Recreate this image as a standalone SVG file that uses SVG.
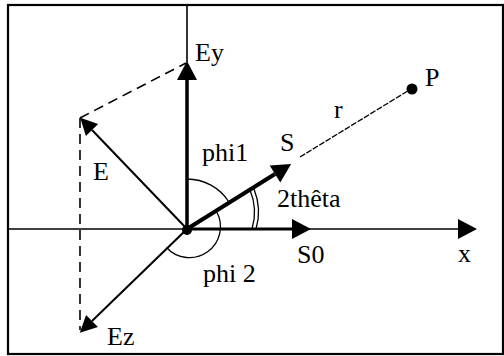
<svg xmlns="http://www.w3.org/2000/svg" width="504" height="356" viewBox="0 0 504 356">
<style>
text{font-family:"Liberation Serif","Times New Roman",serif;font-size:26px;fill:#000}
.thin{stroke:#000;stroke-width:1.6;fill:none}
.dash{stroke:#000;stroke-width:1.6;fill:none;stroke-dasharray:10,6}
.arc{stroke:#000;stroke-width:1.3;fill:none}
</style>
<defs>
<marker id="head" markerUnits="userSpaceOnUse" markerWidth="22" markerHeight="24" refX="0" refY="0" viewBox="0 -12 22 24" orient="auto" overflow="visible">
<path d="M0,-10 L19,0 L0,10 z" fill="#000"/>
</marker>
<marker id="headS" markerUnits="userSpaceOnUse" markerWidth="20" markerHeight="20" refX="0" refY="0" viewBox="0 -10 20 20" orient="auto" overflow="visible">
<path d="M0,-8.5 L17,0 L0,8.5 z" fill="#000"/>
</marker>
</defs>
<rect x="8" y="5" width="495" height="349" fill="#fff" stroke="#000" stroke-width="2.2"/>
<g id="connectors">
<line class="thin" x1="9" y1="229" x2="458" y2="229" marker-end="url(#head)"/>
<line class="thin" x1="187" y1="6" x2="187" y2="62"/>
<line x1="187" y1="229" x2="187" y2="80" stroke="#000" stroke-width="3.5" marker-end="url(#head)"/>
<line x1="187" y1="229" x2="292" y2="229" stroke="#000" stroke-width="3" marker-end="url(#head)"/>
<line x1="187" y1="229" x2="275" y2="174" stroke="#000" stroke-width="4" marker-end="url(#head)"/>
<line x1="187" y1="229" x2="92" y2="130" stroke="#000" stroke-width="2" marker-end="url(#headS)"/>
<line x1="187" y1="229" x2="92" y2="321" stroke="#000" stroke-width="2" marker-end="url(#headS)"/>
<line class="dash" x1="80" y1="118" x2="186" y2="63"/>
<line class="dash" x1="80" y1="118" x2="80" y2="330"/>
<line x1="300" y1="157" x2="411" y2="89" stroke="#000" stroke-width="1.3" stroke-dasharray="6,1.5"/>
<path class="arc" d="M187,179 A50,50 0 0 1 229,202"/>
<path class="arc" d="M166.5,247.5 A31,31 0 0 0 216.5,211.5"/>
<path class="arc" d="M250,190 Q258,209 252,229"/>
<path class="arc" d="M254,189 Q262,209 256,229"/>
</g>
<g id="origin"><circle cx="187" cy="230" r="5" fill="#000"/></g>
<g id="P"><circle cx="412" cy="89" r="5.5" fill="#000"/><text x="425" y="86">P</text></g>
<g id="Ey"><text x="195" y="61">Ey</text></g>
<g id="E"><text x="93" y="180">E</text></g>
<g id="Ez"><text x="107" y="345">Ez</text></g>
<g id="S"><text x="280" y="151">S</text></g>
<g id="r"><text x="334" y="118">r</text></g>
<g id="phi1"><text x="202" y="161">phi1</text></g>
<g id="theta"><text x="277" y="207">2thêta</text></g>
<g id="S0"><text x="297" y="263">S0</text></g>
<g id="x"><text x="458" y="262">x</text></g>
<g id="phi2"><text x="203" y="282">phi 2</text></g>
</svg>
